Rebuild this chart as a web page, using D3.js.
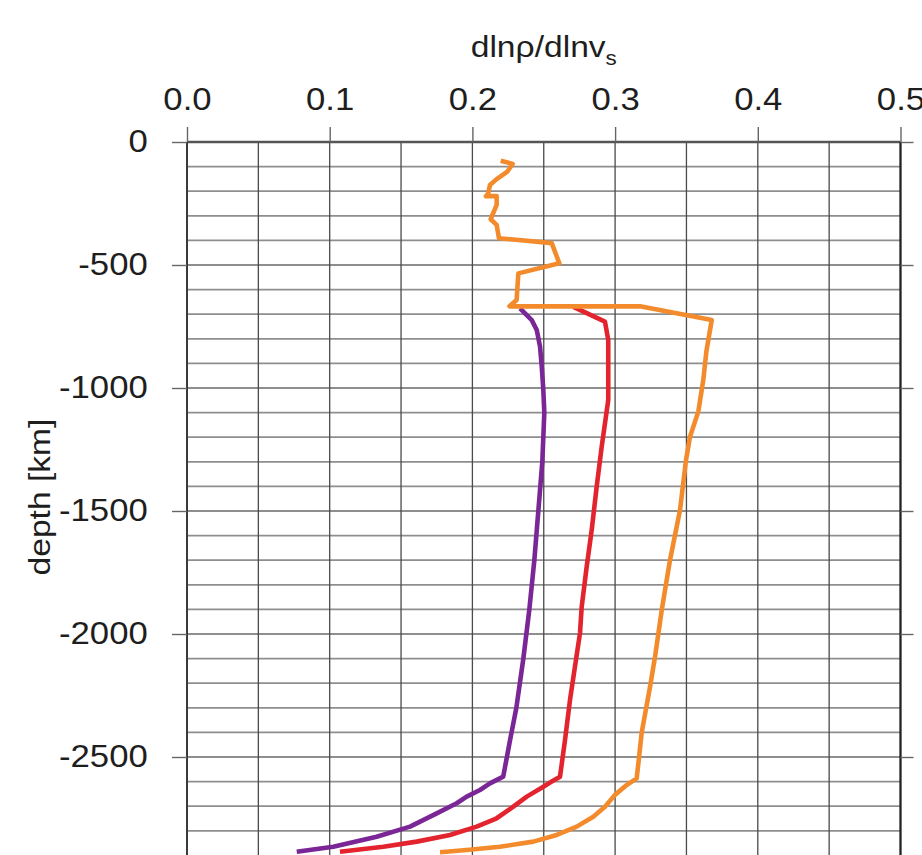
<!DOCTYPE html>
<html>
<head>
<meta charset="utf-8">
<script src="https://cdn.jsdelivr.net/npm/d3@7"></script>
<style>
  html, body { margin: 0; padding: 0; background: #fff; }
  svg { display: block; font-family: "Liberation Sans", Arial, Helvetica, sans-serif; }
</style>
</head>
<body>
<svg id="chart" width="922" height="855"></svg>
<script>
// ---- data (dlnρ/dlnvs vs depth in km) ----
const xTicks = [0.0, 0.1, 0.2, 0.3, 0.4, 0.5];
const yTicks = [0, -500, -1000, -1500, -2000, -2500];

const orangeDepth = [76, 89, 120, 151, 175, 209, 220, 220, 256, 314, 337, 391, 411, 493, 534, 642, 668, 668, 724, 850, 967, 1096, 1198, 1293, 1496, 1699, 1902, 2092, 2214, 2402, 2526, 2587, 2614, 2654, 2702, 2743, 2783, 2817, 2844, 2865, 2878, 2887];
const orangeValue = [0.2198, 0.2282, 0.2245, 0.2170, 0.2123, 0.2111, 0.2095, 0.2170, 0.2170, 0.2128, 0.2170, 0.2186, 0.2556, 0.2609, 0.2322, 0.2310, 0.2260, 0.3175, 0.3677, 0.3640, 0.3618, 0.3583, 0.3525, 0.3497, 0.3455, 0.3385, 0.3327, 0.3280, 0.3245, 0.3186, 0.3163, 0.3151, 0.3081, 0.2999, 0.2929, 0.2847, 0.2731, 0.2591, 0.2427, 0.2193, 0.1960, 0.1773];

const redDepth = [670, 730, 805, 1049, 1144, 1239, 1401, 1577, 1726, 1889, 1996, 2268, 2431, 2580, 2600, 2621, 2661, 2702, 2749, 2783, 2817, 2844, 2865, 2885];
const redValue = [0.2707, 0.2929, 0.2952, 0.2952, 0.2929, 0.2906, 0.2871, 0.2836, 0.2801, 0.2766, 0.2754, 0.2684, 0.2649, 0.2614, 0.2556, 0.2497, 0.2381, 0.2287, 0.2170, 0.2030, 0.1843, 0.1610, 0.1376, 0.1072];

const purpleDepth = [676, 724, 764, 832, 913, 1008, 1100, 1300, 1500, 1700, 1900, 2100, 2300, 2431, 2580, 2607, 2634, 2661, 2688, 2729, 2783, 2824, 2865, 2885];
const purpleValue = [0.2334, 0.2416, 0.2451, 0.2474, 0.2486, 0.2497, 0.2504, 0.2490, 0.2462, 0.2434, 0.2399, 0.2357, 0.2308, 0.2264, 0.2216, 0.2123, 0.2053, 0.1960, 0.1890, 0.1750, 0.1563, 0.1329, 0.1025, 0.0769];

const seriesNames = ["purple", "red", "orange"];
const seriesColors = ["#7b2696", "#e3242f", "#f38b2c"];

// ---- layout ----
const svg = d3.select("#chart");
const x = d3.scaleLinear().domain([0, 0.5]).range([187, 900.5]);
const y = d3.scaleLinear().domain([0, -2900]).range([142, 142 + 2900 * 0.246]);
const stretch = "scale(1.12,1)";

// grid: horizontal every 100 km
const hGrid = d3.range(0, -2801, -100);
svg.append("g").selectAll("line").data(hGrid).join("line")
  .attr("x1", x(0)).attr("x2", x(0.5))
  .attr("y1", d => y(d)).attr("y2", d => y(d))
  .attr("stroke", "#8e8e8e").attr("stroke-width", 1.8);

// grid: vertical every 0.05
const vGrid = d3.range(0, 0.5001, 0.05);
svg.append("g").selectAll("line").data(vGrid).join("line")
  .attr("x1", d => x(d)).attr("x2", d => x(d))
  .attr("y1", y(0)).attr("y2", y(-2900))
  .attr("stroke", "#4a4a4a").attr("stroke-width", 1.3);

// borders
svg.append("line").attr("x1", x(0)).attr("x2", x(0.5)).attr("y1", y(0)).attr("y2", y(0))
  .attr("stroke", "#555").attr("stroke-width", 2.6);
svg.append("line").attr("x1", x(0)).attr("x2", x(0)).attr("y1", y(0)).attr("y2", y(-2900))
  .attr("stroke", "#333").attr("stroke-width", 1.8);
svg.append("line").attr("x1", x(0.5)).attr("x2", x(0.5)).attr("y1", y(0)).attr("y2", y(-2900))
  .attr("stroke", "#222").attr("stroke-width", 2.2);

// axes
const xAxis = svg.append("g").attr("transform", `translate(0,${y(0)})`)
  .call(d3.axisTop(x).tickValues(xTicks).tickSize(15).tickPadding(17).tickFormat(d3.format(".1f")));
const yAxis = svg.append("g").attr("transform", `translate(${x(0)},0)`)
  .call(d3.axisLeft(y).tickValues(yTicks).tickSize(15).tickPadding(20).tickFormat(d => String(d)));
const yAxisR = svg.append("g").attr("transform", `translate(${x(0.5)},0)`)
  .call(d3.axisRight(y).tickValues(yTicks).tickSize(13).tickFormat(""));
[xAxis, yAxis, yAxisR].forEach(a => {
  a.select(".domain").remove();
  a.selectAll(".tick line").attr("stroke", "#666").attr("stroke-width", 1.4);
  a.selectAll("text").attr("font-size", 31).attr("fill", "#1e1e1e")
    .attr("font-family", "'Liberation Sans', Arial, sans-serif")
    .attr("transform", stretch);
});

// lines
const depths = [purpleDepth, redDepth, orangeDepth];
const values = [purpleValue, redValue, orangeValue];
const line = d3.line().x(d => x(d[0])).y(d => y(-d[1]));
seriesNames.forEach((name, i) => {
  const pts = values[i].map((v, j) => [v, depths[i][j]]);
  svg.append("path").datum(pts)
    .attr("class", "series " + name)
    .attr("d", line)
    .attr("fill", "none")
    .attr("stroke", seriesColors[i])
    .attr("stroke-width", 4.6)
    .attr("stroke-linejoin", "round")
    .attr("stroke-linecap", "butt");
});

// title
const title = svg.append("text")
  .attr("transform", `translate(${(x(0) + x(0.5)) / 2},57) ${stretch}`)
  .attr("text-anchor", "middle").attr("font-size", 30).attr("fill", "#1e1e1e");
title.append("tspan").text("dlnρ/dlnv");
title.append("tspan").attr("font-size", 20).attr("dy", 8).text("s");

// y label
svg.append("text")
  .attr("transform", `translate(50,497) rotate(-90) ${stretch}`)
  .attr("text-anchor", "middle").attr("font-size", 30).attr("fill", "#1e1e1e")
  .text("depth [km]");
</script>
</body>
</html>
